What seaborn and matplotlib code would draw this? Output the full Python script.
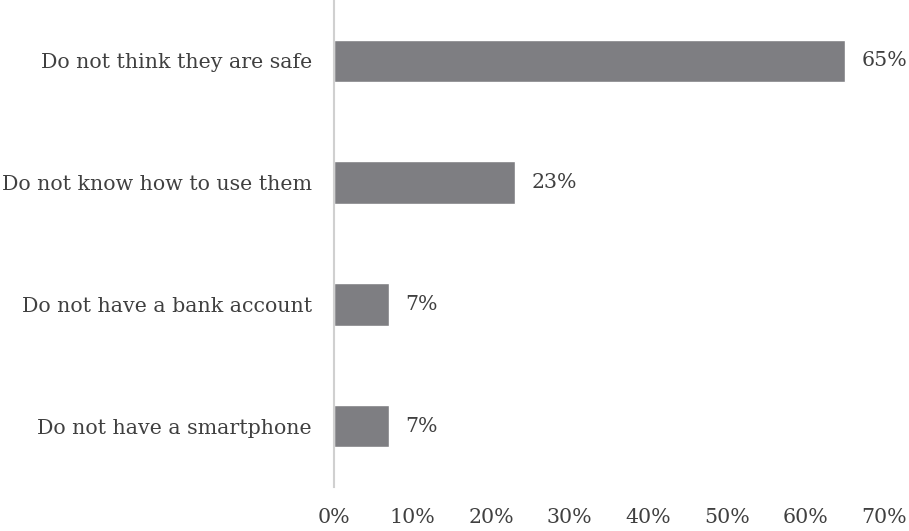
import matplotlib
matplotlib.use("Agg")
import matplotlib.pyplot as plt
import seaborn as sns
import pandas as pd

reasons = [
    "Do not think they are safe",
    "Do not know how to use them",
    "Do not have a bank account",
    "Do not have a smartphone",
]
shares = [65, 23, 7, 7]
x_ticks = [0, 10, 20, 30, 40, 50, 60, 70]

df = pd.DataFrame({"reason": reasons, "share": shares})

sns.set_theme(style="white")
plt.rcParams["font.family"] = ["DejaVu Serif"]

text_color = "#404040"
fig = plt.figure(figsize=(9.09, 5.31), dpi=100)
ax = fig.add_axes([334 / 909, 1 - 487 / 531, 550 / 909, 487 / 531])

sns.barplot(data=df, x="share", y="reason", orient="h", color="#7e7e82",
            saturation=1, width=0.35, ax=ax)

ax.set_xlim(0, 70)
ax.set_ylim(3.5, -0.5)
ax.set_xticks(x_ticks)
ax.set_xticklabels([f"{t}%" for t in x_ticks], fontsize=14.8, color=text_color)
ax.tick_params(axis="x", length=0, pad=15)
ax.tick_params(axis="y", length=0, pad=16, labelsize=14.8, labelcolor=text_color)
ax.set_xlabel("")
ax.set_ylabel("")

for side in ["top", "right", "bottom"]:
    ax.spines[side].set_visible(False)
ax.spines["left"].set_color("#d0d0d0")
ax.spines["left"].set_linewidth(1.5)

ax.bar_label(ax.containers[0], labels=[f"{v}%" for v in shares],
             padding=12, fontsize=14.8, color=text_color)

fig.savefig("out.png", dpi=100)
